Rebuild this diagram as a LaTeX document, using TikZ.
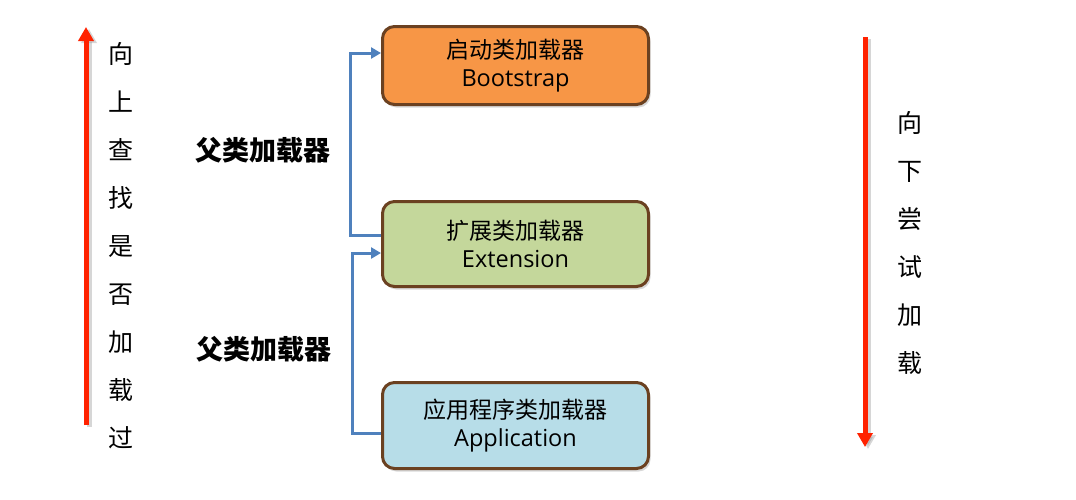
\documentclass[tikz,border=0pt]{standalone}
\usepackage{fontspec}
\setmainfont{Open Sans}
\newfontfamily\cjk{Noto Sans CJK SC}
\usetikzlibrary{arrows.meta,shadows}
\definecolor{bootfill}{HTML}{F79646}
\definecolor{extfill}{HTML}{C4D79B}
\definecolor{appfill}{HTML}{B7DDE8}
\definecolor{boxline}{HTML}{6B4121}
\definecolor{connblue}{HTML}{4F81BD}
\definecolor{arrred}{HTML}{FF2200}
\newcommand\latinline[1]{{\fontsize{23.5}{28}\selectfont #1}}
\tikzset{
  loader/.style={draw=boxline, line width=3pt, rounded corners=12pt,
    minimum width=266pt, align=center, inner sep=0pt,
    font=\fontsize{23}{27.5}\selectfont,
    drop shadow={opacity=0.3, shadow xshift=2pt, shadow yshift=-3pt}},
  conn/.style={draw=connblue, line width=3pt, -{Triangle[length=10pt,width=11pt]}},
  bigarrow/.style={draw=arrred, line width=5pt, -{Triangle[length=14pt,width=15pt]}},
  arrshadow/.style={draw=black!45, line width=5pt, opacity=0.35, -{Triangle[length=14pt,width=15pt]}},
  vtext/.style={align=center, inner sep=0pt, font=\cjk\fontsize{25}{48}\selectfont},
  parentlbl/.style={font=\cjk\bfseries\fontsize{27}{30}\selectfont, inner sep=0pt}
}
\begin{document}
\begin{tikzpicture}[x=1pt,y=-1pt]
\useasboundingbox[fill=white] (0,0) rectangle (1076,499);
% boxes
\node[loader, fill=bootfill, minimum height=78pt] (boot) at (515.5,65.5) {{\cjk 启动类加载器}\\\latinline{Bootstrap}};
\node[loader, fill=extfill, minimum height=85pt] (ext) at (515.5,244) {{\cjk 扩展类加载器}\\\latinline{Extension}};
\node[loader, fill=appfill, minimum height=86pt] (app) at (515.5,425.5) {{\cjk 应用程序类加载器}\\\latinline{Application}};
% connectors
\draw[conn] ([yshift=9pt]ext.west) -- ++(-31,0) |- ([yshift=12.5pt]boot.west);
\draw[conn] ([yshift=-7.5pt]app.west) -- ++(-29,0) |- ([yshift=-9pt]ext.west);
% parent labels
\node[parentlbl] (p1) at (263,150) {父类加载器};
\node[parentlbl] (p2) at (264,349) {父类加载器};
% red arrows
\coordinate (lb) at (86,425);
\coordinate (lt) at (86,27);
\coordinate (rt) at (865,37);
\coordinate (rb) at (865,447);
\draw[arrshadow] ([xshift=3pt,yshift=-2pt]lb) -- ([xshift=3pt,yshift=-2pt]lt);
\draw[arrshadow] ([xshift=3pt,yshift=-2pt]rt) -- ([xshift=3pt,yshift=-2pt]rb);
\draw[bigarrow] (lb) -- (lt);
\draw[bigarrow] (rt) -- (rb);
% vertical texts
\node[vtext] (up) at (121,245.5) {向\\上\\查\\找\\是\\否\\加\\载\\过};
\node[vtext] (down) at (910,242.5) {向\\下\\尝\\试\\加\\载};
\end{tikzpicture}
\end{document}
